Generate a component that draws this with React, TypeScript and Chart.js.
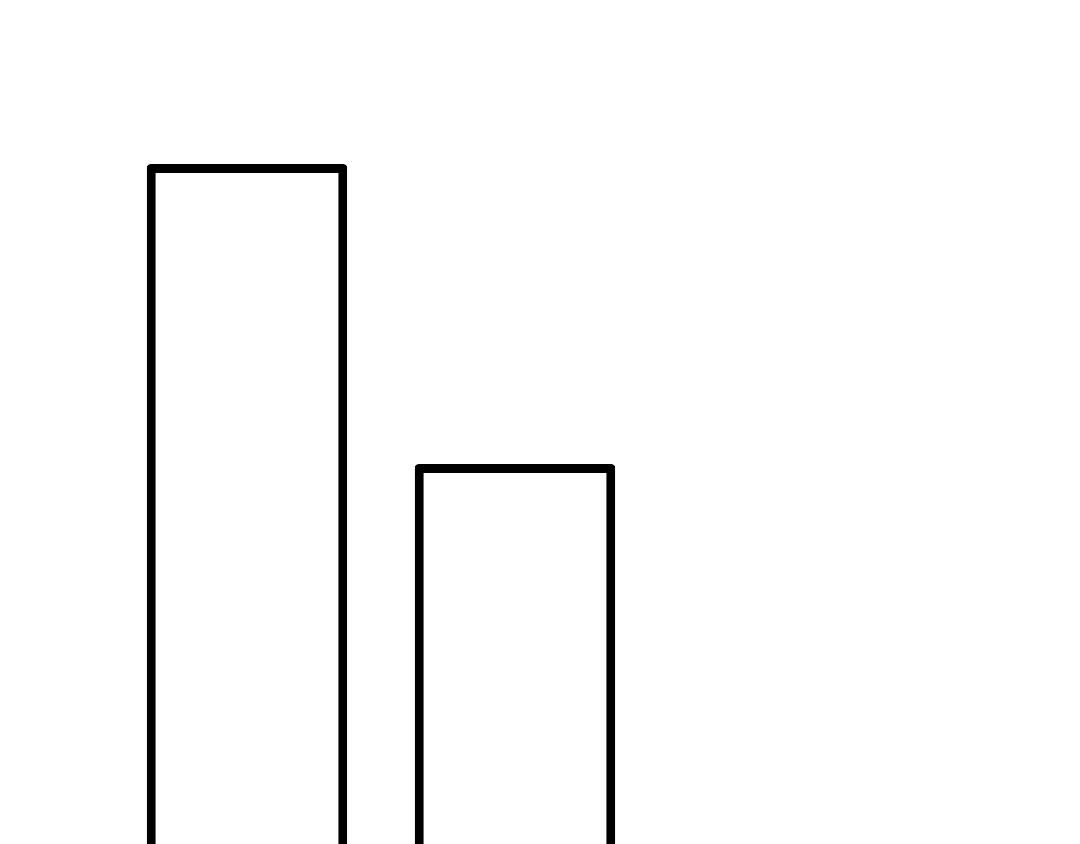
import React, { useEffect, useRef } from "react";
import { Chart, registerables } from "chart.js";

Chart.register(...registerables);

const categories = ["A", "B"];
const values = [90, 60];
const yMin = 0;
const yMax = 100;

export default function App() {
  const ref = useRef<HTMLCanvasElement | null>(null);

  useEffect(() => {
    if (!ref.current) return;
    const chart = new Chart(ref.current, {
      type: "bar",
      data: {
        labels: categories,
        datasets: [
          {
            data: values,
            backgroundColor: "#ffffff",
            borderColor: "#000000",
            borderWidth: 9,
            borderRadius: 4,
            borderSkipped: false,
            categoryPercentage: 1,
            barPercentage: 0.748,
          },
        ],
      },
      options: {
        responsive: false,
        animation: false,
        devicePixelRatio: 1,
        layout: { padding: { left: 105, right: 423, top: 56, bottom: 44 } },
        plugins: { legend: { display: false }, tooltip: { enabled: false }, title: { display: false } },
        scales: {
          x: { display: false, grid: { display: false } },
          y: { display: false, min: yMin, max: yMax, grid: { display: false } },
        },
      },
    });
    return () => chart.destroy();
  }, []);

  return (
    <div style={{ height: 836, overflow: "hidden" }}>
      <canvas ref={ref} width={1064} height={1100} style={{ display: "block", width: 1064, height: 1100 }} />
    </div>
  );
}
